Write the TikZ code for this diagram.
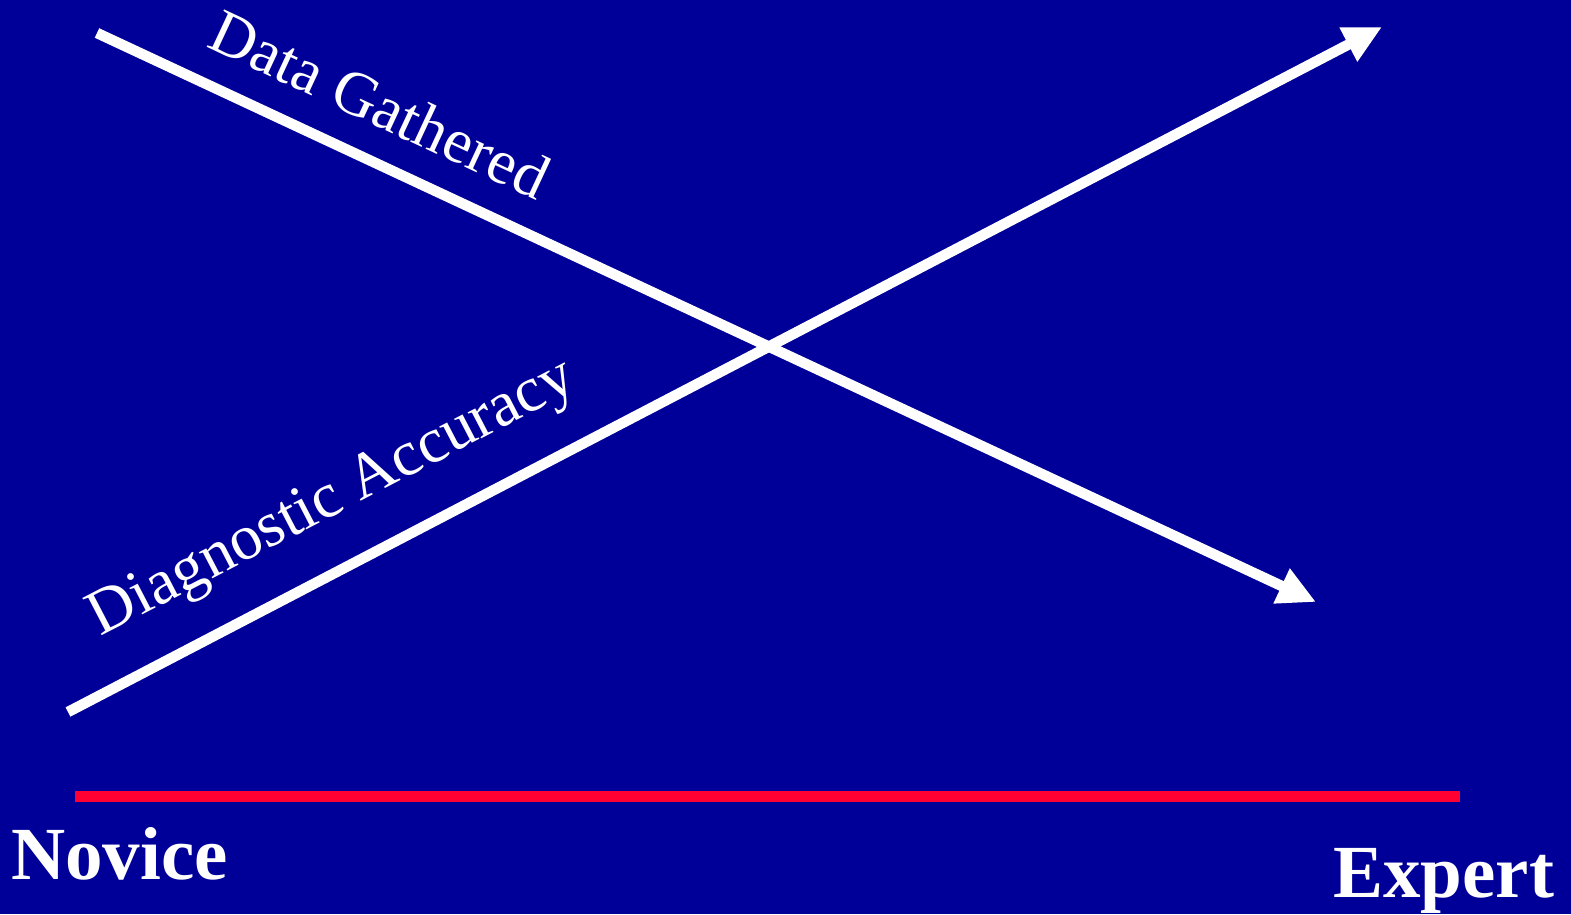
\documentclass[tikz,border=0pt]{standalone}
\usepackage{fontspec}
\setmainfont{Liberation Serif}
\usetikzlibrary{arrows.meta}
\definecolor{bgblue}{HTML}{000099}
\definecolor{axisred}{HTML}{FF0033}
\tikzset{
  trendline/.style={draw=white,line width=10.5pt,-{Triangle[length=38pt,width=36pt]}},
  axisline/.style={draw=axisred,line width=11pt},
  curvelabel/.style={text=white,inner sep=0pt},
  endlabel/.style={text=white,font=\fontsize{75}{75}\selectfont\bfseries,inner sep=0pt,anchor=base west}
}
\begin{document}
\begin{tikzpicture}[x=1pt,y=-1pt]
\fill[bgblue] (0,0) rectangle (1571,914);
\useasboundingbox (0,0) rectangle (1571,914);
\coordinate (dgA) at (97,33);
\coordinate (dgB) at (1316,602);
\coordinate (daA) at (68,712);
\coordinate (daB) at (1382,27);
\coordinate (axA) at (75,796);
\coordinate (axB) at (1460,796);
\draw[trendline] (dgA) -- (dgB);
\draw[trendline] (daA) -- (daB);
\draw[axisline] (axA) -- (axB);
\node[curvelabel,font=\fontsize{63}{63}\selectfont,rotate=-25] (dglabel) at (380,104) {Data Gathered};
\node[curvelabel,font=\fontsize{64}{64}\selectfont,rotate=27.5] (dalabel) at (333,500) {Diagnostic Accuracy};
\node[endlabel] (novice) at (11,879) {Novice};
\node[endlabel] (expert) at (1333,897) {Expert};
\end{tikzpicture}
\end{document}
